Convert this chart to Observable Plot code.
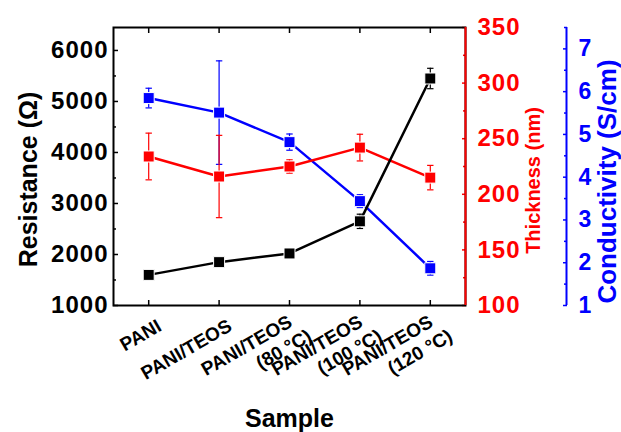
<!DOCTYPE html>
<html><head><meta charset="utf-8">
<script src="https://cdn.jsdelivr.net/npm/d3@7"></script>
<script src="https://cdn.jsdelivr.net/npm/@observablehq/plot@0.6"></script>
<style>
body{margin:0;background:#fff}
.tk text{letter-spacing:1px}
</style>
</head><body><div id="chart"></div>
<script>
const sampleLine1 = ["PANI","PANI/TEOS","PANI/TEOS","PANI/TEOS","PANI/TEOS"];
const sampleLine2 = ["","","(80 °C)","(100 °C)","(120 °C)"];
const resistance = [1600,1850,2020,2650,5450];
const resistanceErr = [40,40,40,140,200];
const thickness = [234,216,225,242,215];
const thicknessErr = [21,37,6,12,11];
const conductivity = [5.85,5.51,4.82,3.44,1.87];
const conductivityErr = [0.23,1.21,0.19,0.15,0.16];
const resistanceTicks = [1000,2000,3000,4000,5000,6000];
const resistanceMinor = [1500,2500,3500,4500,5500];
const thicknessTicks = [100,150,200,250,300,350];
const thicknessMinor = [125,175,225,275,325];
const conductivityTicks = [1,2,3,4,5,6,7];
const conductivityMinor = [1.5,2.5,3.5,4.5,5.5,6.5,7.5];
const resistanceDomain = [1000,6450];
const thicknessDomain = [100,350];
const conductivityDomain = [1,7.5];
const xDomain = [-0.5,4.5];

const RED = "#ff0000", BLUE = "#0000ff", BLACK = "#000000";
const lin = (d) => (v) => resistanceDomain[0] + (v - d[0]) / (d[1] - d[0]) * (resistanceDomain[1] - resistanceDomain[0]);
const fromThick = lin(thicknessDomain);
const fromCond = lin(conductivityDomain);

const rows = sampleLine1.map((s, i) => ({
  i, l1: s, l2: sampleLine2[i],
  r: resistance[i], re: resistanceErr[i],
  t: thickness[i], te: thicknessErr[i],
  c: conductivity[i], ce: conductivityErr[i]
}));
const idx = rows.map(d => d.i);

const cap = {draw(ctx, size) { const w = Math.sqrt(size / Math.PI); ctx.moveTo(-w, 0); ctx.lineTo(w, 0); }};

function series(color, yf, ef) {
  return [
    Plot.line(rows, {x: "i", y: d => yf(d), stroke: color, strokeWidth: 2.5}),
    Plot.ruleX(rows, {x: "i", y1: d => yf(d) - ef(d), y2: d => yf(d) + ef(d), stroke: color, strokeWidth: 1.2}),
    Plot.dot(rows, {x: "i", y: d => yf(d) + ef(d), symbol: cap, r: 3.2, stroke: color, strokeWidth: 1.2}),
    Plot.dot(rows, {x: "i", y: d => yf(d) - ef(d), symbol: cap, r: 3.2, stroke: color, strokeWidth: 1.2}),
    Plot.dot(rows, {x: "i", y: d => yf(d), symbol: "square", r: 6.2, fill: color, stroke: "white", strokeWidth: 1})
  ];
}

const font = {fontWeight: "bold"};

const chart = Plot.plot({
  width: 621, height: 432,
  marginLeft: 113, marginRight: 156, marginTop: 27, marginBottom: 127,
  x: {domain: xDomain, axis: null},
  y: {domain: resistanceDomain, axis: null},
  style: {fontFamily: "'Liberation Sans', Arial, sans-serif", background: "white", color: "black", overflow: "visible"},
  marks: [
    // axis ticks
    Plot.axisY(resistanceTicks, {anchor: "left", tickSize: 5, dx: 5, fill: "none", stroke: BLACK, strokeWidth: 1.5, label: null}),
    Plot.axisY(resistanceMinor, {anchor: "left", tickSize: 3, dx: 3, fill: "none", stroke: BLACK, strokeWidth: 1.5, label: null}),
    Plot.axisX(idx, {anchor: "top", tickSize: 5, dy: 5, fill: "none", stroke: BLACK, strokeWidth: 1.5, label: null}),
    Plot.axisX(idx, {anchor: "bottom", tickSize: 5, dy: -5, fill: "none", stroke: BLACK, strokeWidth: 1.5, label: null}),
    Plot.axisY(thicknessTicks, {y: fromThick, anchor: "right", tickSize: 4, dx: -4, fill: "none", stroke: RED, strokeWidth: 1.5, label: null}),
    Plot.axisY(thicknessMinor, {y: fromThick, anchor: "right", tickSize: 3, dx: -3, fill: "none", stroke: RED, strokeWidth: 1.5, label: null}),
    Plot.axisY(conductivityTicks, {y: fromCond, anchor: "right", tickSize: 4, dx: 97, fill: "none", stroke: BLUE, strokeWidth: 1.5, label: null}),
    Plot.axisY(conductivityMinor, {y: fromCond, anchor: "right", tickSize: 3, dx: 98, fill: "none", stroke: BLUE, strokeWidth: 1.5, label: null}),
    // frame & axis lines
    Plot.frame({stroke: BLACK, strokeWidth: 2}),
    Plot.ruleX([xDomain[1]], {stroke: RED, strokeWidth: 2}),
    Plot.ruleX([xDomain[1]], {stroke: BLUE, strokeWidth: 2, dx: 101}),
    // tick labels
    Plot.text(resistanceTicks, {y: d => d, text: d => String(d), frameAnchor: "left", dx: -5, textAnchor: "end", lineAnchor: "middle", fontSize: 24, ...font, fill: BLACK, className: "tk"}),
    Plot.text(thicknessTicks, {y: fromThick, text: d => String(d), frameAnchor: "right", dx: 12, textAnchor: "start", lineAnchor: "middle", fontSize: 24, ...font, fill: RED, className: "tk"}),
    Plot.text(conductivityTicks, {y: fromCond, text: d => String(d), frameAnchor: "right", dx: 113, textAnchor: "start", lineAnchor: "middle", fontSize: 23, ...font, fill: BLUE}),
    Plot.text(rows.filter(d => !d.l2), {x: "i", text: "l1", frameAnchor: "bottom", rotate: -30, textAnchor: "end", lineAnchor: "middle", dx: 11, dy: 19, fontSize: 19, ...font, fill: BLACK}),
    Plot.text(rows.filter(d => d.l2), {x: "i", text: "l1", frameAnchor: "bottom", rotate: -30, textAnchor: "end", lineAnchor: "middle", dx: 1, dy: 15, fontSize: 19, ...font, fill: BLACK}),
    Plot.text(rows.filter(d => d.l2), {x: "i", text: "l2", frameAnchor: "bottom", rotate: -30, textAnchor: "end", lineAnchor: "middle", dx: 20.5, dy: 29, fontSize: 19, ...font, fill: BLACK}),
    // titles
    Plot.text(["Resistance (Ω)"], {text: d => d, frameAnchor: "left", rotate: -90, textAnchor: "middle", lineAnchor: "middle", dx: -85, dy: 13, fontSize: 25, ...font, fill: BLACK}),
    Plot.text(["Thickness (nm)"], {text: d => d, frameAnchor: "right", rotate: -90, textAnchor: "middle", lineAnchor: "middle", dx: 68, dy: 14, fontSize: 20, ...font, fill: RED}),
    Plot.text(["Conductivity (S/cm)"], {text: d => d, frameAnchor: "right", rotate: -90, textAnchor: "middle", lineAnchor: "middle", dx: 142, dy: 15, fontSize: 26, ...font, fill: BLUE}),
    Plot.text(["Sample"], {text: d => d, frameAnchor: "bottom", textAnchor: "middle", lineAnchor: "middle", dy: 113, fontSize: 25, ...font, fill: BLACK}),
    // data
    ...series(BLUE, d => fromCond(d.c), d => fromCond(d.c + d.ce) - fromCond(d.c)),
    ...series(RED, d => fromThick(d.t), d => fromThick(d.t + d.te) - fromThick(d.t)),
    ...series(BLACK, d => d.r, d => d.re)
  ]
});
document.getElementById("chart").appendChild(chart);
</script>
</body></html>
